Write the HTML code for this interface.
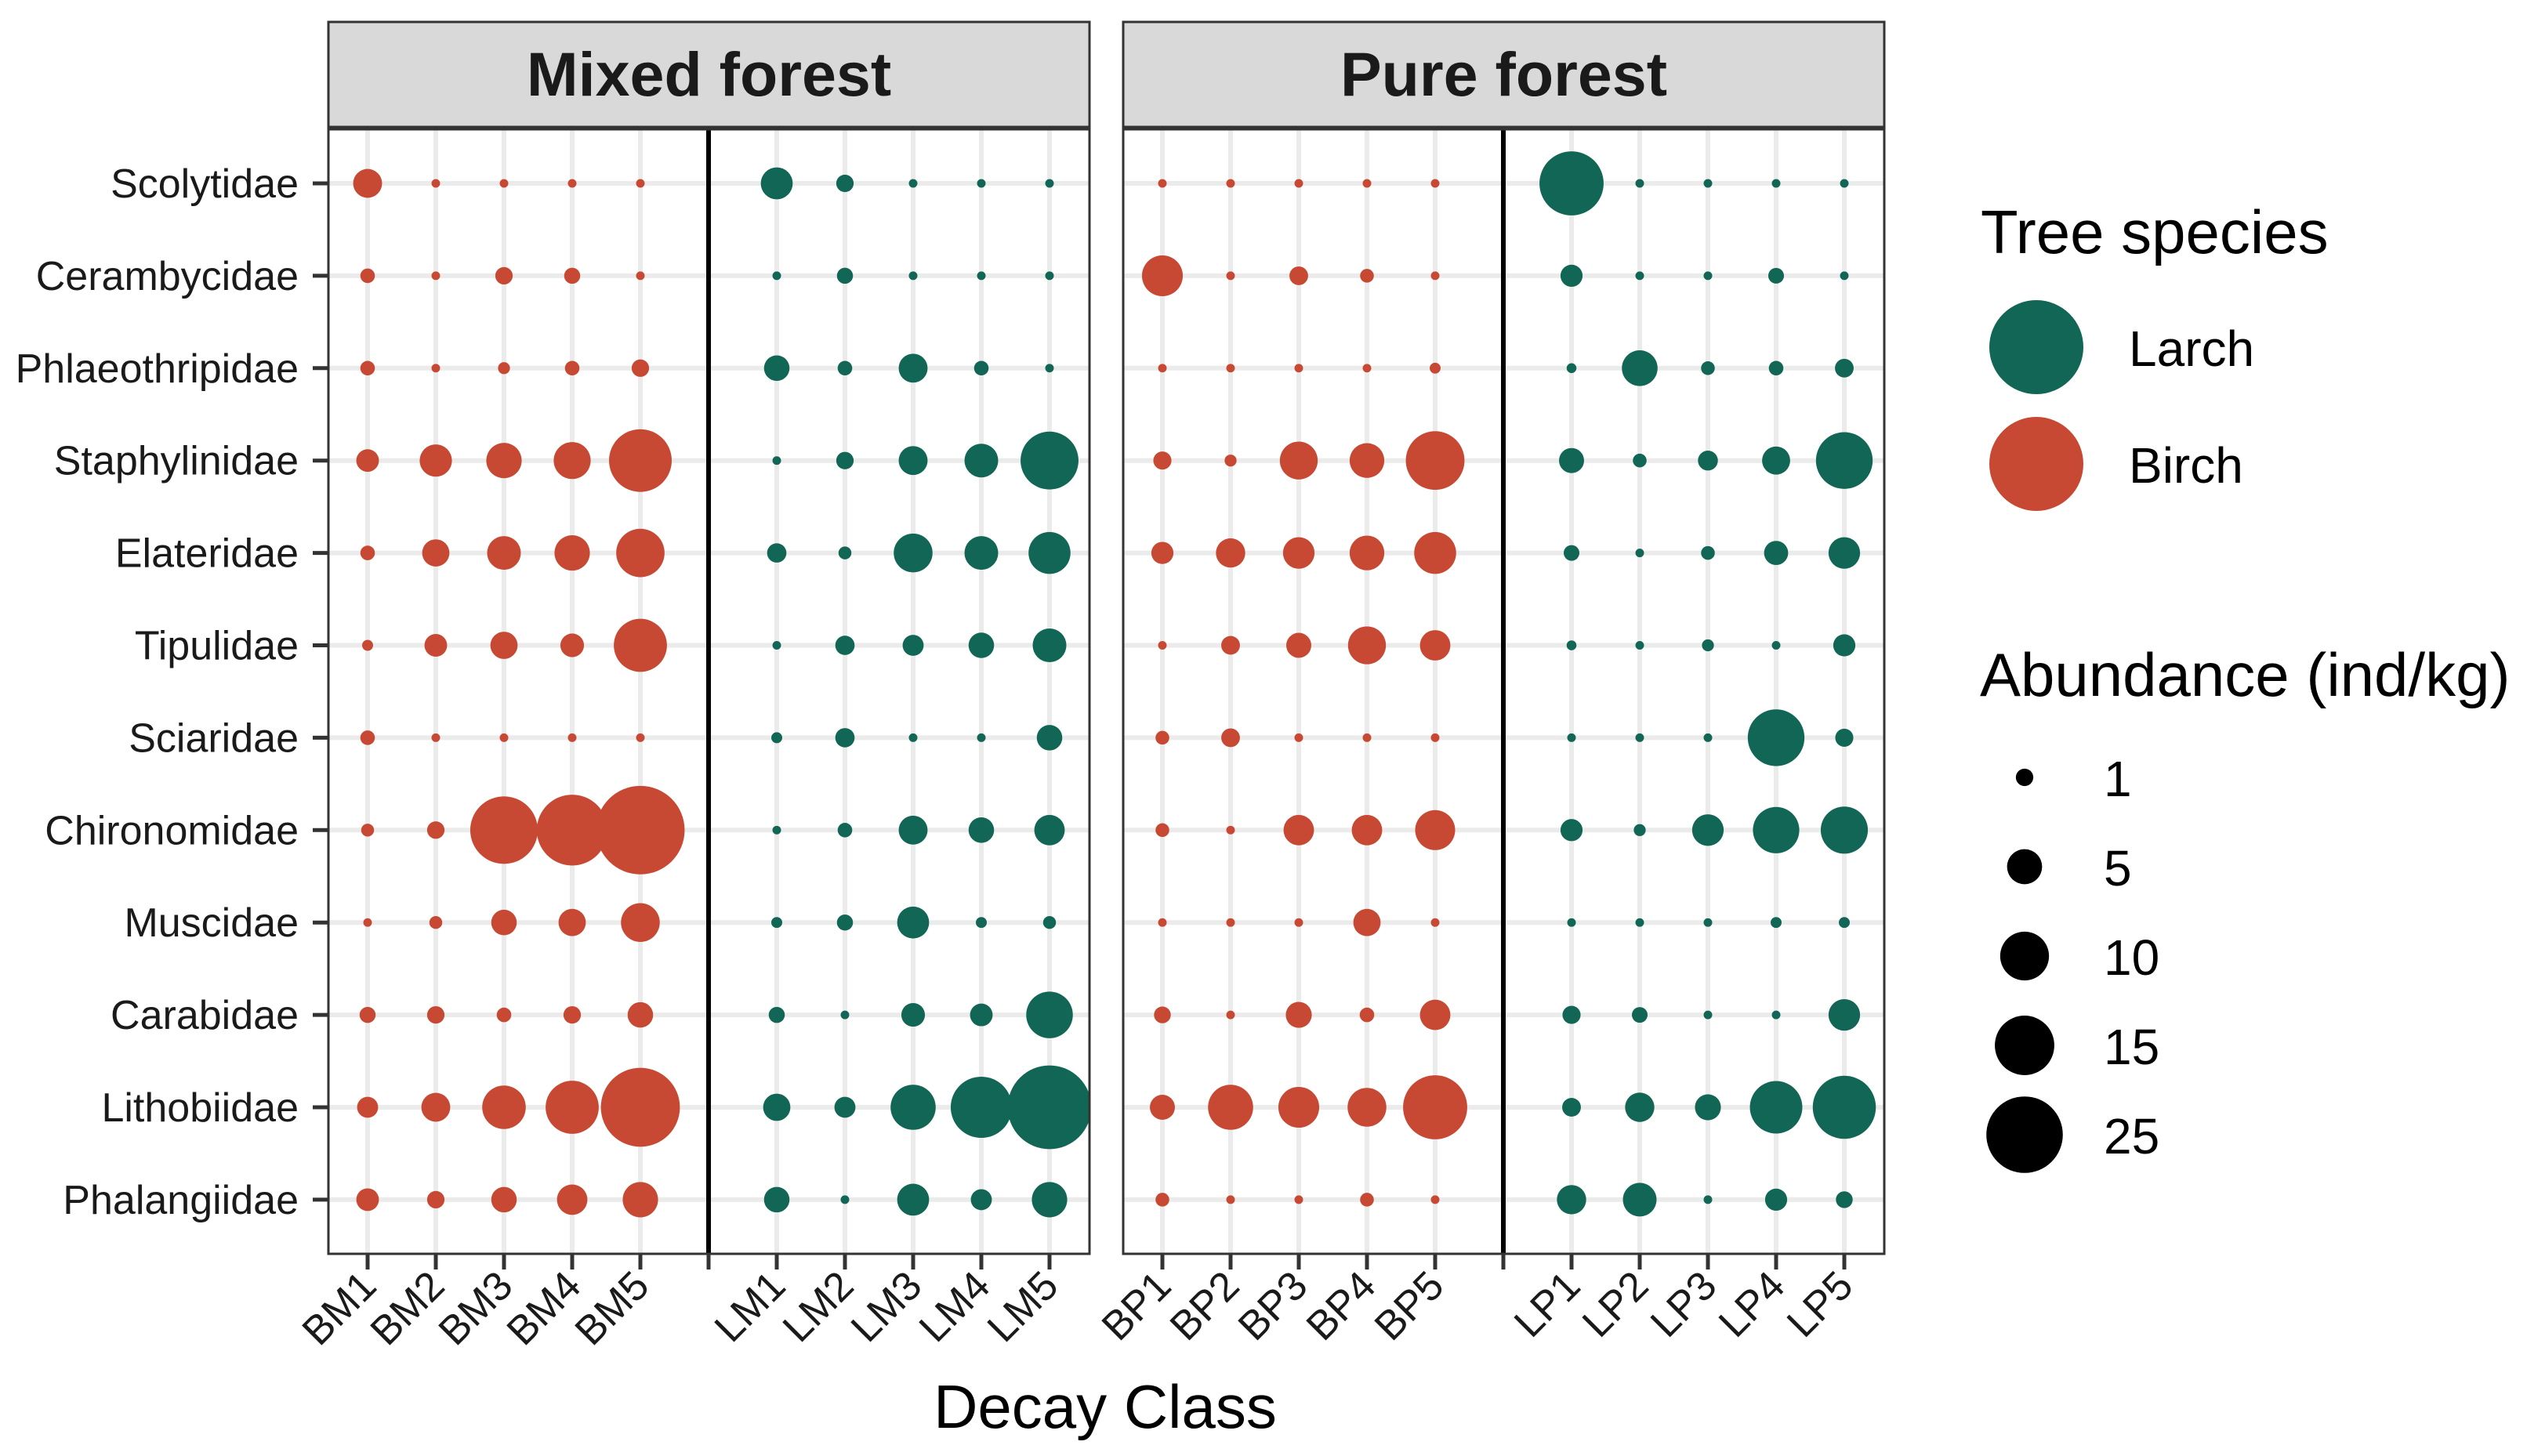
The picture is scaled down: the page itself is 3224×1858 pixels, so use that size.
<!DOCTYPE html>
<html><head><meta charset="utf-8">
<style>
html,body{margin:0;padding:0;background:#fff;}
svg{display:block;font-family:"Liberation Sans",Arial,sans-serif;}
</style></head>
<body>
<svg id="chart" width="3224" height="1858" viewBox="0 0 3224 1858" xmlns="http://www.w3.org/2000/svg">
<rect x="0" y="0" width="3224" height="1858" fill="#ffffff"/>
<g id="panels"></g>
<text x="1410" y="1822" font-size="78" text-anchor="middle" fill="#000">Decay Class</text>
<g>
<text x="2527" y="323" font-size="78" fill="#000">Tree species</text>
<circle cx="2598" cy="443" r="60" fill="#116656"/>
<text x="2716" y="467" font-size="64" fill="#000">Larch</text>
<circle cx="2598" cy="592" r="60" fill="#C84933"/>
<text x="2716" y="616" font-size="64" fill="#000">Birch</text>
</g>
<g id="sizeLegend">
<text x="2526" y="888" font-size="78" fill="#000">Abundance (ind/kg)</text>
</g>
</svg>
<script>
const families = ["Scolytidae","Cerambycidae","Phlaeothripidae","Staphylinidae","Elateridae","Tipulidae","Sciaridae","Chironomidae","Muscidae","Carabidae","Lithobiidae","Phalangiidae"];
const mixedBirchLabels = ["BM1","BM2","BM3","BM4","BM5"];
const mixedLarchLabels = ["LM1","LM2","LM3","LM4","LM5"];
const pureBirchLabels = ["BP1","BP2","BP3","BP4","BP5"];
const pureLarchLabels = ["LP1","LP2","LP3","LP4","LP5"];
// values per family (rows) x decay class (cols)
const mixedBirch = [
 [3.3,0,0,0,0],[0.6,0,1.0,0.8,0],[0.6,0,0.3,0.6,1.0],[1.9,4.2,5.1,5.6,16.7],
 [0.6,2.9,4.6,5.1,9.8],[0.2,1.9,2.9,2.1,11.9],[0.6,0,0,0,0],[0.4,1.0,19.4,21.4,33.6],
 [0,0.4,2.5,2.9,6.2],[0.8,1.0,0.6,1.0,2.5],[1.6,3.3,7.9,11.9,26.7],[1.9,1.0,2.5,3.7,5.1]];
const mixedLarch = [
 [4.1,1.0,0,0,0],[0,0.8,0,0,0],[2.5,0.6,3.3,0.6,0],[0,1.0,3.3,4.6,14.2],
 [1.3,0.4,6.2,4.6,7.3],[0,1.3,1.6,2.5,4.6],[0.2,1.3,0,0,2.5],[0,0.6,3.3,2.5,3.7],
 [0.2,0.8,4.1,0.2,0.4],[0.8,0,2.1,1.9,9.1],[2.9,1.6,8.5,15.9,30],[2.5,0,4.1,1.6,5.1]];
const pureBirch = [
 [0,0,0,0,0],[6.9,0,1.2,0.5,0],[0,0,0,0,0.2],[1.1,0.3,5.9,4.9,14.6],
 [1.8,3.4,4.0,4.9,7.3],[0,1.2,2.4,5.9,3.7],[0.5,1.2,0,0,0],[0.5,0,3.7,3.7,6.6],
 [0,0,0,2.9,0],[0.9,0,2.6,0.6,3.7],[2.4,8.5,6.9,6.2,17.5],[0.5,0,0,0.5,0]];
const pureLarch = [
 [17.5,0,0,0,0],[1.8,0,0,0.75,0],[0.1,5.2,0.5,0.6,1.2],[2.4,0.5,1.4,3.1,13.6],
 [0.75,0,0.5,2.2,4.0],[0.1,0,0.3,0,1.8],[0,0,0,13.6,1.1],[1.8,0.3,4.0,9.0,9.3],
 [0,0,0,0.2,0.2],[1.1,0.75,0,0,4.0],[1.2,3.4,2.6,11.6,16.9],[3.4,4.6,0,1.8,0.9]];
const sizeBreaks = [1,5,10,15,25];

const NS="http://www.w3.org/2000/svg";
const svg=document.getElementById('chart');
const panelsG=document.getElementById('panels');
const BIRCH="#C84933", LARCH="#116656";
const PTOP=165, PBOT=1600, STRIPTOP=28;
const ROW0=234, ROWSTEP=117.9;
const XSTEP=87, PW=971;
function yScale(i){return ROW0+i*ROWSTEP;}
function xScale(left,pos){return left+50+pos*XSTEP;}
function rScale(v){return Math.sqrt(Math.max(30+94*v,25));}
function mk(tag,attrs,parent){const e=document.createElementNS(NS,tag);for(const k in attrs)e.setAttribute(k,attrs[k]);(parent||svg).appendChild(e);return e;}

const panels=[
 {left:419,title:"Mixed forest",key:"mixed",birch:mixedBirch,larch:mixedLarch,bl:mixedBirchLabels,ll:mixedLarchLabels},
 {left:1433,title:"Pure forest",key:"pure",birch:pureBirch,larch:pureLarch,bl:pureBirchLabels,ll:pureLarchLabels}
];
panels.forEach(p=>{
 const g=mk('g',{},panelsG);
 
 
 const clipId='clip-'+p.key;
 const cp=mk('clipPath',{id:clipId},g);
 mk('rect',{x:p.left,y:PTOP,width:PW,height:PBOT-PTOP},cp);
 const strip=mk('rect',{x:p.left,y:STRIPTOP,width:PW,height:PTOP-STRIPTOP-3,fill:"#D9D9D9",stroke:"#333",'stroke-width':3},g);
 
 
 const st=mk('text',{x:p.left+PW/2,y:122,'font-size':79,'font-weight':'bold','text-anchor':'middle',fill:'#1a1a1a'},g);
 st.textContent=p.title;
 
 
 const grid=mk('g',{'clip-path':'url(#'+clipId+')'},g);
 for(let i=0;i<families.length;i++){
  const gl=mk('line',{x1:p.left,x2:p.left+PW,y1:yScale(i),y2:yScale(i),stroke:'#EBEBEB','stroke-width':6},grid);
  
  
 }
 for(let j=0;j<11;j++){
  if(j===5)continue;
  const gl=mk('line',{x1:xScale(p.left,j),x2:xScale(p.left,j),y1:PTOP,y2:PBOT,stroke:'#EBEBEB','stroke-width':6},grid);
  
  
 }
 const dv=mk('line',{x1:xScale(p.left,5),x2:xScale(p.left,5),y1:PTOP,y2:PBOT,stroke:'#000','stroke-width':6},grid);
 
 
 const pts=mk('g',{'clip-path':'url(#'+clipId+')'},g);
 for(let i=0;i<families.length;i++){
  for(let j=0;j<5;j++){
   const c1=mk('circle',{cx:xScale(p.left,j),cy:yScale(i),r:rScale(p.birch[i][j]),fill:BIRCH},pts);
   
   
   const c2=mk('circle',{cx:xScale(p.left,j+6),cy:yScale(i),r:rScale(p.larch[i][j]),fill:LARCH},pts);
   
   
  }
 }
 const border=mk('rect',{x:p.left,y:PTOP,width:PW,height:PBOT-PTOP,fill:'none',stroke:'#333','stroke-width':3},g);
 
 
 const labels=p.bl.concat([""]).concat(p.ll);
 for(let j=0;j<11;j++){
  const x=xScale(p.left,j);
  const t=mk('line',{x1:x,x2:x,y1:PBOT,y2:PBOT+20,stroke:'#333','stroke-width':5},g);
  
  
  if(!labels[j])continue;
  const ax=x+14, ay=PBOT+44;
  const tx=mk('text',{x:ax,y:ay,'font-size':52,'text-anchor':'end',fill:'#1a1a1a',transform:'rotate(-45 '+ax+' '+ay+')'},g);
  tx.textContent=labels[j];
  
  
 }
});
for(let i=0;i<families.length;i++){
 const y=yScale(i);
 const t=mk('line',{x1:399,x2:419,y1:y,y2:y,stroke:'#333','stroke-width':5});
 
 
 const tx=mk('text',{x:381,y:y+18,'font-size':52,'text-anchor':'end',fill:'#1a1a1a'});
 tx.textContent=families[i];
 
 
}
const sl=document.getElementById('sizeLegend');
sizeBreaks.forEach((v,k)=>{
 const cy=992+k*114;
 const c=mk('circle',{cx:2583,cy:cy,r:rScale(v),fill:'#000'},sl);
 
 
 const t=mk('text',{x:2684,y:cy+24,'font-size':64,fill:'#000'},sl);
 t.textContent=String(v);
 
 
});
</script>
</body></html>
